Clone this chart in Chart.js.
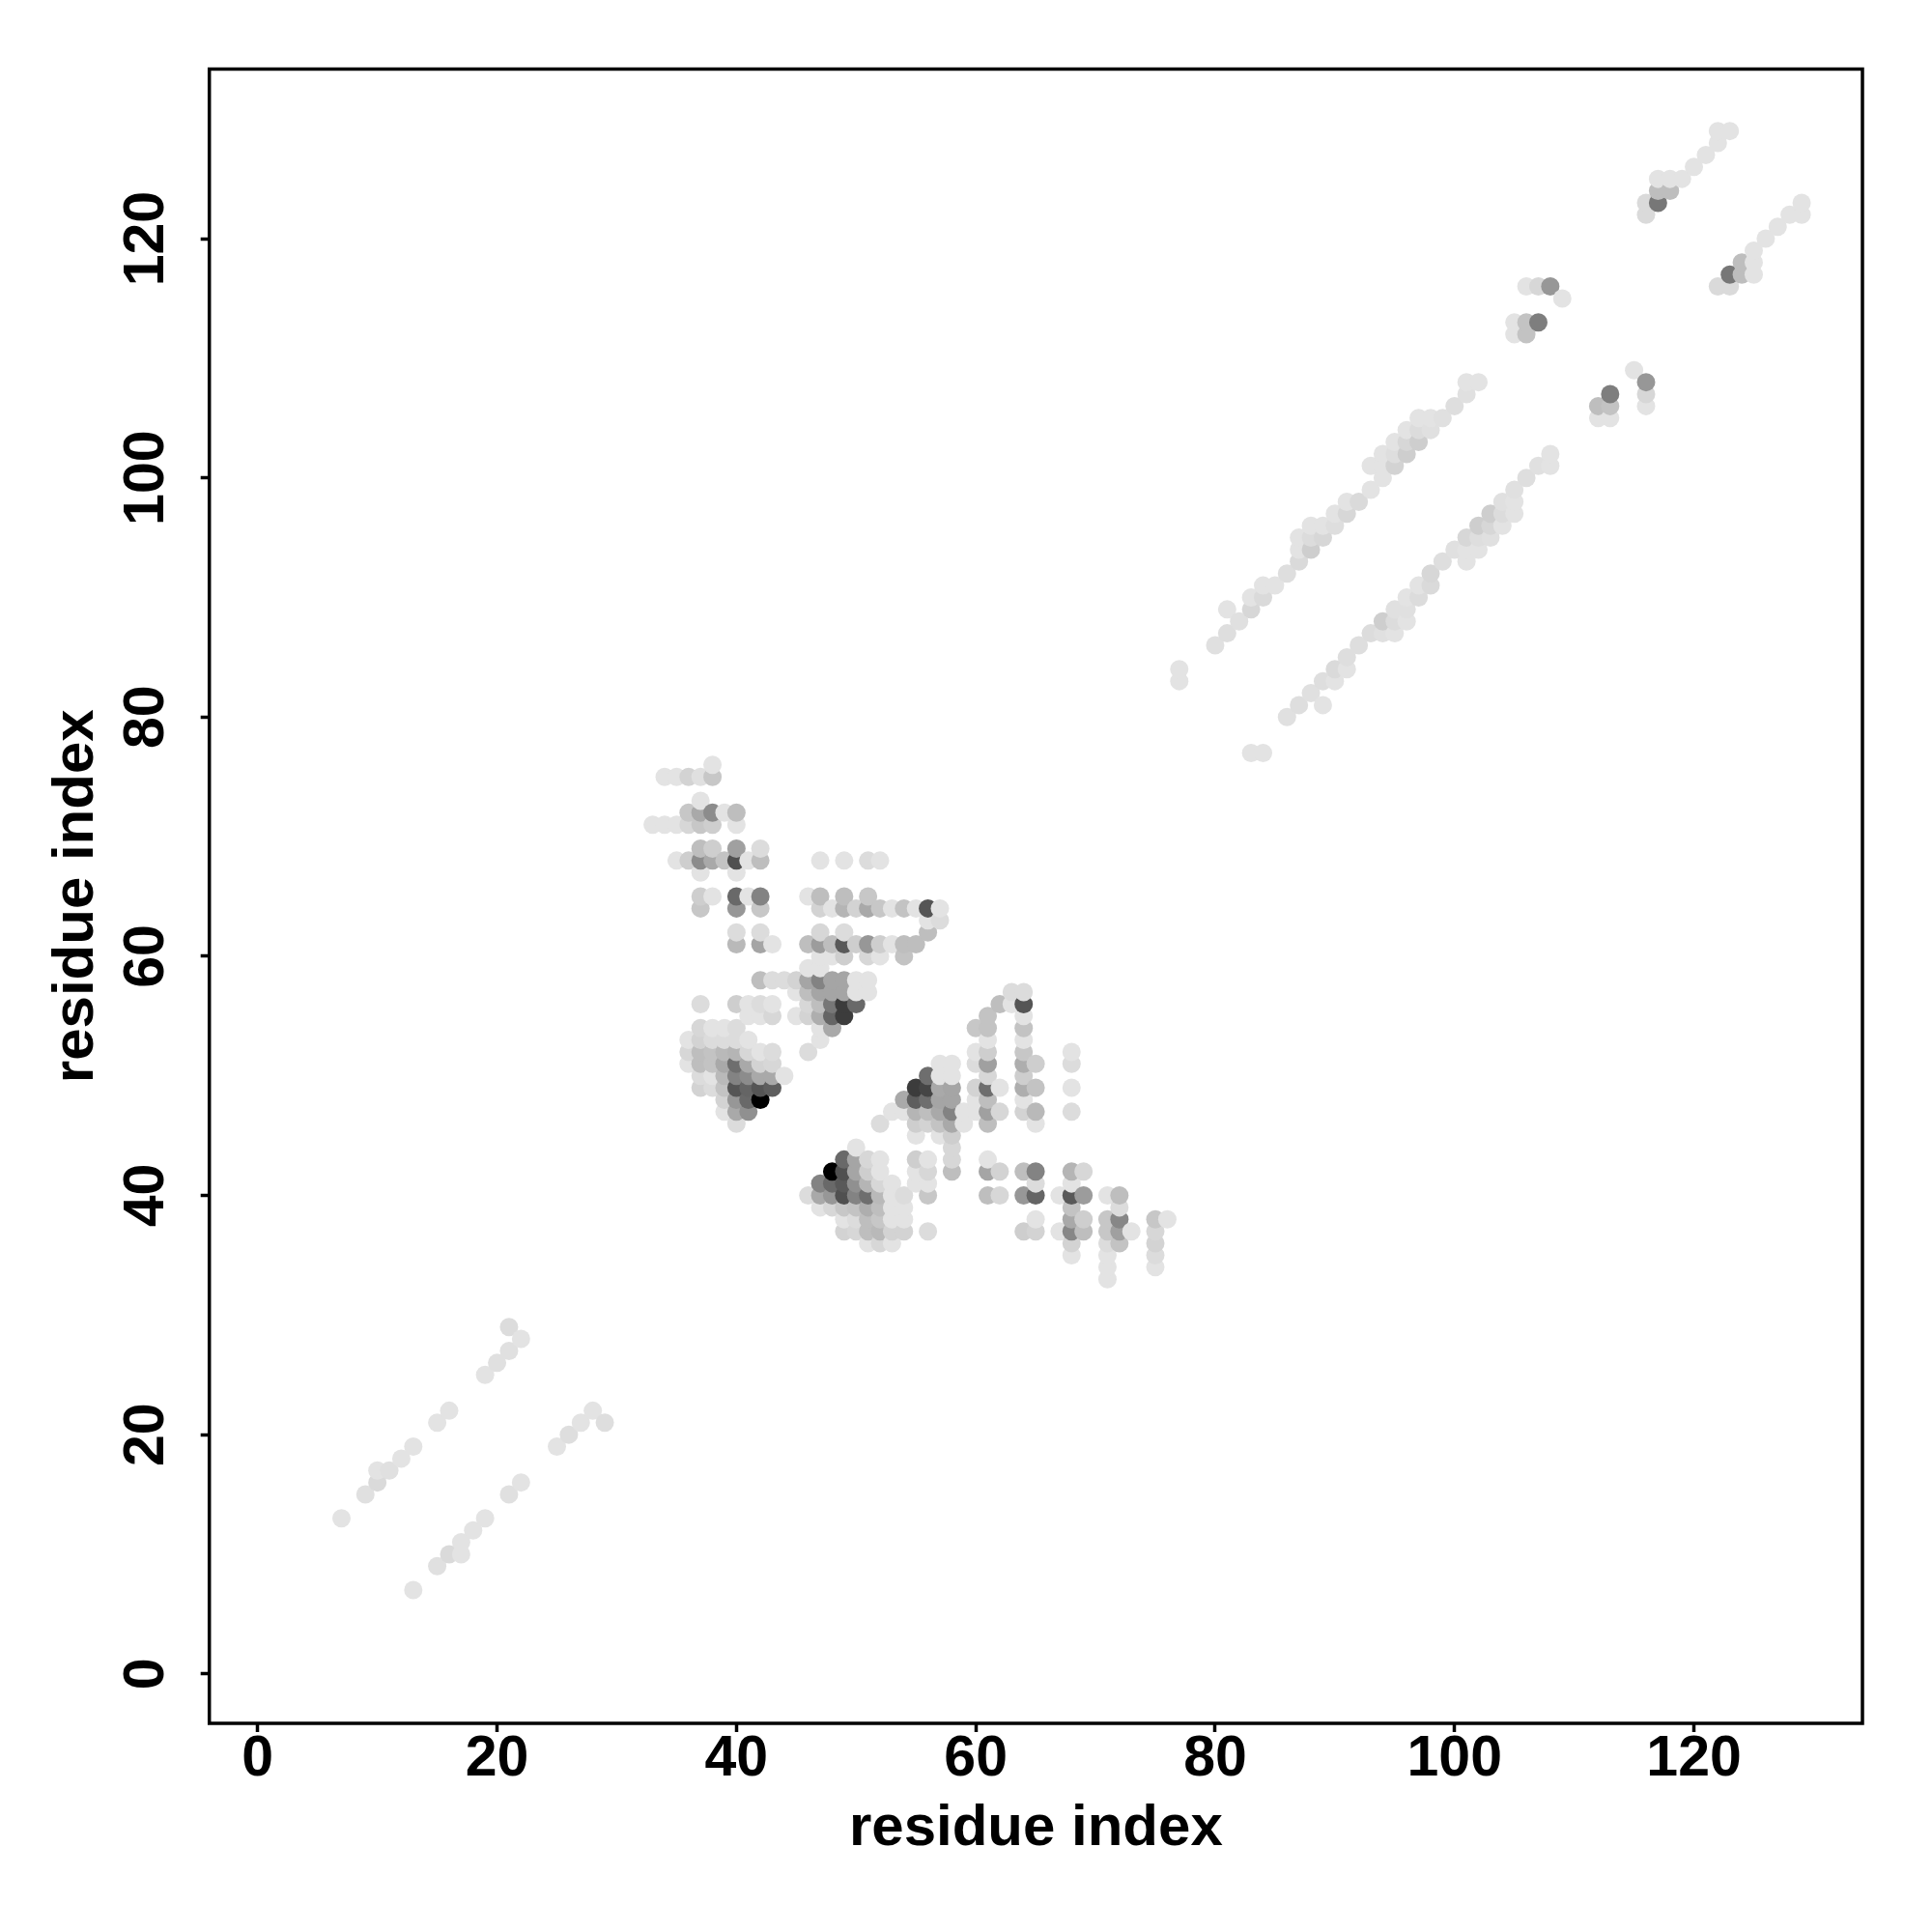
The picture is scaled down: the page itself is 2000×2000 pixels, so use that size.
<!DOCTYPE html>
<html>
<head>
<meta charset="utf-8">
<style>
  html, body { margin: 0; padding: 0; background: #fff; }
  canvas { display: block; }
</style>
<script src="https://cdn.jsdelivr.net/npm/chart.js@4/dist/chart.umd.min.js"></script>
</head>
<body>
<canvas id="contactMap" width="2000" height="2000"></canvas>
<script>
// Axis ticks
const xTicks = [0, 20, 40, 60, 80, 100, 120];
const yTicks = [0, 20, 40, 60, 80, 100, 120];

// Residue on the x axis, one entry per column of dots
const residues = [
  7, 9, 10, 11, 12, 13, 15, 16, 17, 18, 19, 20, 21, 22, 25, 26, 27, 28, 29,
  33, 34, 35, 36, 37, 38, 39, 40, 41, 42, 43, 44, 45, 46, 47, 48, 49, 50,
  51, 52, 53, 54, 55, 56, 57, 58, 59, 60, 61, 62, 63, 64, 65, 67, 68, 69,
  71, 72, 73, 75, 76, 77, 80, 81, 82, 83, 84, 85, 86, 87, 88, 89, 90, 91,
  92, 93, 94, 95, 96, 97, 98, 99, 100, 101, 102, 103, 104, 105, 106, 107,
  108, 109, 112, 113, 115, 116, 117, 118, 119, 120, 121, 122, 123, 124,
  125, 126, 127, 128, 129
];

// Partner residues seen in each column
const partners = [
  [13], [15], [16, 17], [17], [18], [7, 19], [9, 21], [10, 22], [10, 11], [12],
  [13, 25], [26], [15, 27, 29], [16, 28], [19], [20], [21], [22], [21],
  [71], [71, 75], [68, 71, 75],
  [51, 52, 53, 68, 71, 72, 75],
  [49, 50, 51, 52, 53, 54, 56, 64, 65, 67, 68, 69, 71, 72, 73, 75],
  [49, 50, 51, 52, 53, 54, 65, 68, 69, 71, 72, 75, 76],
  [47, 48, 49, 50, 51, 52, 53, 54, 68, 72],
  [46, 47, 48, 49, 50, 51, 52, 53, 54, 56, 61, 62, 64, 65, 67, 68, 69, 71, 72],
  [47, 48, 49, 50, 51, 52, 53, 55, 56, 65, 68],
  [48, 49, 50, 51, 52, 55, 56, 58, 61, 62, 64, 65, 68, 69],
  [49, 50, 51, 52, 55, 56, 58, 61],
  [50, 58],
  [55, 57, 58],
  [40, 52, 55, 56, 57, 58, 59, 61, 65],
  [39, 40, 41, 53, 54, 55, 56, 57, 58, 59, 60, 61, 62, 64, 65, 68],
  [39, 40, 41, 42, 54, 55, 56, 57, 58, 60, 61, 64],
  [37, 38, 39, 40, 41, 42, 43, 55, 56, 57, 58, 60, 61, 62, 64, 65, 68],
  [37, 38, 39, 40, 41, 42, 43, 44, 56, 57, 58, 61, 64],
  [36, 37, 38, 39, 40, 41, 42, 43, 57, 58, 60, 61, 64, 65, 68],
  [36, 37, 38, 39, 40, 41, 42, 43, 46, 60, 61, 64, 68],
  [36, 37, 38, 39, 40, 41, 47, 61, 64],
  [37, 38, 39, 40, 47, 48, 60, 61, 64],
  [41, 42, 43, 45, 46, 47, 48, 49, 61, 64],
  [37, 40, 41, 42, 43, 46, 47, 48, 49, 50, 62, 63, 64],
  [45, 46, 47, 48, 49, 50, 51, 63, 64],
  [42, 43, 44, 45, 46, 47, 48, 49, 50, 51],
  [46, 47],
  [47, 48, 49, 51, 52, 54],
  [40, 42, 43, 46, 47, 48, 49, 50, 51, 52, 53, 54, 55],
  [40, 42, 47, 49, 56],
  [56, 57],
  [37, 40, 42, 47, 48, 49, 50, 51, 52, 53, 54, 55, 56, 57],
  [37, 38, 40, 41, 42, 46, 47, 49, 51],
  [37, 40],
  [35, 36, 37, 38, 39, 40, 41, 42, 47, 49, 51, 52],
  [37, 38, 40, 42],
  [33, 34, 35, 36, 37, 38, 40],
  [36, 37, 38, 39, 40],
  [37],
  [34, 35, 36, 37, 38],
  [38],
  [83, 84],
  [86], [87, 89], [88], [77, 89, 90], [77, 90, 91], [91], [80, 92],
  [81, 93, 94, 95],
  [82, 94, 95, 96],
  [81, 83, 95, 96],
  [83, 84, 96, 97],
  [84, 85, 97, 98],
  [86, 98],
  [87, 99, 101],
  [87, 88, 100, 101, 102],
  [87, 88, 89, 101, 102, 103],
  [88, 89, 90, 102, 103, 104],
  [90, 91, 103, 104, 105],
  [91, 92, 104, 105],
  [93, 105],
  [94, 106],
  [93, 94, 95, 107, 108],
  [94, 95, 96, 108],
  [95, 96, 97],
  [96, 97, 98],
  [97, 98, 99, 112, 113],
  [100, 112, 113, 116],
  [101, 113, 116],
  [101, 102, 116],
  [115],
  [105, 106],
  [105, 106, 107],
  [109],
  [106, 107, 108, 122, 123],
  [123, 124, 125],
  [124, 125],
  [125], [126], [127],
  [116, 128, 129],
  [116, 117, 129],
  [117, 118],
  [117, 118, 119],
  [120], [121], [122], [122, 123]
];

// How strong each contact looks, 0 (faint) to 100 (black), same shape as partners
const strengths = [
  [1], [2], [5, 1], [2], [1], [1, 1], [2, 1], [5, 1], [1, 1], [1],
  [1, 1], [2], [2, 2, 4], [1, 1], [1], [3], [1], [1], [3],
  [1], [1, 1], [1, 1, 1],
  [1, 6, 1, 10, 6, 13, 8],
  [8, 4, 17, 17, 8, 6, 4, 13, 10, 1, 39, 17, 13, 26, 1, 2],
  [4, 1, 15, 15, 4, 1, 1, 26, 10, 10, 39, 13, 1],
  [1, 8, 15, 19, 26, 19, 4, 1, 15, 1],
  [4, 26, 34, 63, 43, 52, 21, 4, 4, 10, 19, 4, 34, 54, 1, 65, 30, 1, 17],
  [37, 54, 56, 39, 26, 6, 1, 1, 1, 1, 1],
  [100, 63, 26, 8, 1, 1, 4, 17, 28, 4, 13, 43, 17, 4],
  [59, 26, 6, 4, 6, 1, 4, 1],
  [1, 4],
  [1, 1, 8],
  [4, 4, 8, 6, 17, 28, 1, 17, 1],
  [1, 26, 43, 1, 1, 24, 17, 28, 43, 1, 1, 32, 6, 8, 17, 1],
  [6, 34, 54, 100, 26, 56, 48, 28, 28, 1, 17, 1],
  [8, 1, 13, 65, 61, 65, 54, 74, 74, 28, 28, 10, 61, 4, 21, 17, 1],
  [6, 4, 15, 43, 37, 28, 28, 1, 54, 1, 1, 10, 8],
  [1, 17, 17, 24, 52, 21, 10, 6, 1, 1, 6, 34, 26, 13, 4],
  [6, 19, 13, 17, 19, 6, 1, 1, 4, 1, 10, 13, 1],
  [1, 8, 1, 1, 1, 1, 1, 1, 1],
  [8, 1, 1, 4, 1, 26, 15, 17, 15],
  [1, 1, 10, 1, 10, 21, 59, 74, 17, 1],
  [4, 13, 1, 6, 1, 8, 17, 52, 70, 52, 17, 1, 63],
  [1, 15, 26, 28, 26, 1, 1, 4, 1],
  [17, 6, 6, 10, 26, 43, 28, 28, 1, 1],
  [1, 1],
  [1, 1, 8, 4, 1, 13],
  [17, 28, 1, 17, 30, 17, 52, 6, 30, 10, 1, 15, 15],
  [6, 8, 6, 1, 17],
  [1, 4],
  [10, 34, 17, 8, 1, 24, 10, 24, 13, 1, 15, 1, 63, 4],
  [8, 1, 56, 4, 43, 1, 19, 15, 10],
  [1, 1],
  [1, 8, 41, 26, 15, 61, 1, 21, 4, 1, 4, 1],
  [17, 10, 32, 6],
  [1, 1, 1, 4, 13, 13, 1],
  [15, 30, 41, 4, 17],
  [1],
  [1, 4, 8, 6, 13],
  [1],
  [1, 1],
  [2], [3, 1], [2], [1, 6, 1], [1, 5, 1], [1], [2, 3],
  [3, 5, 1, 1],
  [2, 10, 4, 1],
  [1, 3, 6, 1],
  [1, 5, 3, 1],
  [1, 3, 6, 1],
  [3, 5],
  [4, 1, 1],
  [2, 10, 1, 1, 1],
  [1, 4, 2, 8, 3, 1],
  [1, 2, 1, 10, 6, 1],
  [4, 1, 10, 4, 1],
  [5, 6, 2, 1],
  [3, 2],
  [2, 3],
  [1, 1, 6, 2, 1],
  [1, 3, 10, 1],
  [2, 6, 10],
  [1, 4, 2],
  [1, 1, 2, 1, 1],
  [3, 15, 15, 1],
  [2, 45, 6],
  [1, 1, 34],
  [1],
  [1, 17],
  [1, 15, 45],
  [1],
  [1, 6, 34, 5, 5],
  [48, 17, 1],
  [17, 1],
  [1], [1], [1],
  [5, 1, 1],
  [5, 48, 1],
  [17, 17],
  [1, 1, 1],
  [1], [1], [1], [1, 1]
];

// Flatten the columns into points, left to right and bottom to top so the
// later dots cover the earlier ones
const contacts = [];
const contactColors = [];
residues.forEach((residue, col) => {
  partners[col].forEach((partner, row) => {
    contacts.push({ x: residue, y: partner });
    const level = Math.round(229 * (1 - strengths[col][row] / 100));
    contactColors.push(`rgb(${level}, ${level}, ${level})`);
  });
});

// Box round the plot, Chart.js only gives us the two axis lines
const plotFrame = {
  id: 'plotFrame',
  afterDatasetsDraw(chart) {
    const { ctx, chartArea } = chart;
    ctx.save();
    ctx.strokeStyle = '#000';
    ctx.lineWidth = 3.5;
    ctx.strokeRect(chartArea.left, chartArea.top, chartArea.width, chartArea.height);
    ctx.restore();
  }
};

const tickFont = { family: '"Liberation Sans"', size: 59, weight: 'bold' };
const titleFont = { family: '"Liberation Sans"', size: 60, weight: 'bold' };

new Chart(document.getElementById('contactMap').getContext('2d'), {
  type: 'scatter',
  data: {
    datasets: [{
      data: contacts,
      pointBackgroundColor: contactColors,
      pointBorderWidth: 0,
      pointRadius: 9.5
    }]
  },
  options: {
    responsive: false,
    animation: false,
    layout: { padding: { top: 71.5, right: 72, bottom: 0, left: 0 } },
    plugins: {
      legend: { display: false },
      tooltip: { enabled: false }
    },
    scales: {
      x: {
        type: 'linear',
        min: -4.04,
        max: 134.08,
        border: { display: false },
        grid: { drawOnChartArea: false, tickLength: 9, tickWidth: 3.5, tickColor: '#000' },
        ticks: {
          autoSkip: false,
          maxRotation: 0,
          padding: -7,
          color: '#000',
          font: tickFont
        },
        afterBuildTicks: scale => { scale.ticks = xTicks.map(value => ({ value })); },
        afterFit: scale => { scale.height = 216; },
        title: {
          display: true,
          text: 'residue index',
          color: '#000',
          font: titleFont,
          padding: { top: 0, bottom: 70.5 }
        }
      },
      y: {
        type: 'linear',
        min: -4.14,
        max: 134.18,
        border: { display: false },
        grid: { drawOnChartArea: false, tickLength: 9, tickWidth: 3.5, tickColor: '#000' },
        ticks: {
          autoSkip: false,
          minRotation: 90,
          maxRotation: 90,
          crossAlign: 'center',
          padding: 6,
          color: '#000',
          font: tickFont
        },
        afterBuildTicks: scale => { scale.ticks = yTicks.map(value => ({ value })); },
        afterFit: scale => { scale.width = 216.7; },
        title: {
          display: true,
          text: 'residue index',
          color: '#000',
          font: titleFont,
          padding: { top: 43, bottom: 0 }
        }
      }
    }
  },
  plugins: [plotFrame]
});
</script>
</body>
</html>
